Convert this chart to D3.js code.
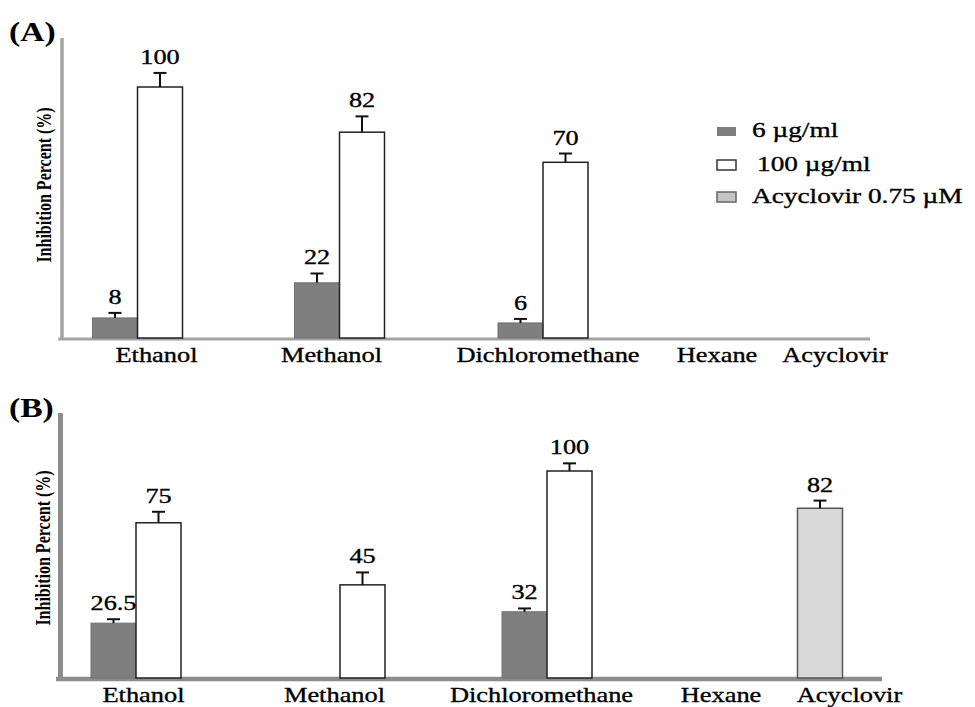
<!DOCTYPE html>
<html>
<head>
<meta charset="utf-8">
<script src="https://cdn.jsdelivr.net/npm/d3@7"></script>
<style>
  html, body { margin: 0; padding: 0; background: #fff; }
  svg { display: block; }
  text { font-family: "Liberation Serif", "Times New Roman", serif; fill: #000; }
  text.reg { stroke: #000; stroke-width: 0.35px; }
</style>
</head>
<body>
<svg id="chart" width="975" height="707"></svg>
<script>
// ---------- DATA ----------
const categories = ["Ethanol", "Methanol", "Dichloromethane", "Hexane", "Acyclovir"];
const seriesNames = ["6 µg/ml", "100 µg/ml", "Acyclovir 0.75 µM"];

// Panel A
const low6A      = [8, 22, 6, null, null];
const low6ErrA   = [2, 3.7, 1.6, null, null];
const high100A   = [100, 82, 70, null, null];
const high100ErrA= [5.6, 6.3, 3.5, null, null];
const acyA       = [null, null, null, null, null];
const acyErrA    = [null, null, null, null, null];

// Panel B
const low6B      = [26.5, 0, 32, null, null];
const low6ErrB   = [1.9, null, 1.6, null, null];
const high100B   = [75, 45, 100, null, null];
const high100ErrB= [5.3, 6, 3.7, null, null];
const acyB       = [null, null, null, null, 82];
const acyErrB    = [null, null, null, null, 3.7];

// ---------- LAYOUT ----------
const svg = d3.select("#chart");
const barW = 45;
const fills   = ["#7f7f7f", "#ffffff", "#d9d9d9"];
const strokes = ["#707070", "#222222", "#555555"];
const strokeW = [1, 1.5, 1.5];

const panels = [
  {
    title: "(A)", titleY: 41,
    low: low6A, lowErr: low6ErrA, high: high100A, highErr: high100ErrA, acy: acyA, acyErr: acyErrA,
    y: d3.scaleLinear().domain([0, 100]).range([338, 87]),
    axisTop: 38, axisRight: 870, axisX: 62, yAxisW: 3.5, xAxisW: 3, axisColor: "#a3a3a3",
    groupX: d3.scaleOrdinal().domain(categories).range([137.5, 339.5, 543, 745, 820]),
    labelX: d3.scaleOrdinal().domain(categories).range([156.5, 331.5, 548, 717, 835]),
    labelY: 362, yTitleX: 44, yTitleY: 185
  },
  {
    title: "(B)", titleY: 417,
    low: low6B, lowErr: low6ErrB, high: high100B, highErr: high100ErrB, acy: acyB, acyErr: acyErrB,
    y: d3.scaleLinear().domain([0, 100]).range([678, 471]),
    axisTop: 413, axisRight: 882, axisX: 60.5, yAxisW: 5, xAxisW: 4.5, axisColor: "#8c8c8c",
    groupX: d3.scaleOrdinal().domain(categories).range([136, 340, 547, 745, 820]),
    labelX: d3.scaleOrdinal().domain(categories).range([143.5, 334.5, 541.5, 721, 849.5]),
    labelY: 702, yTitleX: 43, yTitleY: 548
  }
];

function stretched(g, str, x, y, sx, size, weight) {
  return g.append("text")
    .attr("class", weight ? null : "reg")
    .attr("transform", `translate(${x},${y}) scale(${sx},1)`)
    .attr("text-anchor", "middle")
    .style("font-size", size + "px")
    .style("font-weight", weight || "normal")
    .text(str);
}

panels.forEach(p => {
  const g = svg.append("g");
  const base = p.y(0);

  // axes
  g.append("line").attr("x1", p.axisX).attr("x2", p.axisX)
    .attr("y1", p.axisTop).attr("y2", base + p.xAxisW / 2)
    .attr("stroke", p.axisColor).attr("stroke-width", p.yAxisW);
  g.append("line").attr("x1", p.axisX - p.yAxisW / 2 - 2).attr("x2", p.axisRight)
    .attr("y1", base + 1).attr("y2", base + 1)
    .attr("stroke", p.axisColor).attr("stroke-width", p.xAxisW);

  // build bar records
  const bars = [];
  categories.forEach((c, i) => {
    const vals = [p.low[i], p.high[i], p.acy[i]];
    const errs = [p.lowErr[i], p.highErr[i], p.acyErr[i]];
    const present = [0, 1, 2].filter(s => vals[s] !== null);
    if (!present.length) return;
    const cx = p.groupX(c);
    const inner = d3.scaleBand().domain(present)
      .range([cx - present.length * barW / 2, cx + present.length * barW / 2]);
    present.forEach(s => {
      if (vals[s] > 0) bars.push({ cat: c, s, v: vals[s], e: errs[s], x: inner(s), w: inner.bandwidth() });
    });
  });

  // bars
  g.selectAll("rect.bar").data(bars).join("rect")
    .attr("class", "bar")
    .attr("x", d => d.x).attr("width", d => d.w)
    .attr("y", d => p.y(d.v)).attr("height", d => base - p.y(d.v))
    .attr("fill", d => fills[d.s]).attr("stroke", d => strokes[d.s])
    .attr("stroke-width", d => strokeW[d.s]);

  // error bars
  const eb = bars.filter(d => d.e !== null);
  g.selectAll("line.err").data(eb).join("line")
    .attr("class", "err")
    .attr("x1", d => d.x + d.w / 2).attr("x2", d => d.x + d.w / 2)
    .attr("y1", d => p.y(d.v)).attr("y2", d => p.y(d.v + d.e))
    .attr("stroke", "#111").attr("stroke-width", 2);
  g.selectAll("line.cap").data(eb).join("line")
    .attr("class", "cap")
    .attr("x1", d => d.x + d.w / 2 - 6.5).attr("x2", d => d.x + d.w / 2 + 6.5)
    .attr("y1", d => p.y(d.v + d.e)).attr("y2", d => p.y(d.v + d.e))
    .attr("stroke", "#111").attr("stroke-width", 2);

  // value labels
  bars.forEach(d => {
    stretched(g, String(d.v), d.x + d.w / 2, p.y(d.v + (d.e || 0)) - 9, 1.25, 21);
  });

  // category labels
  categories.forEach(c => stretched(g, c, p.labelX(c), p.labelY, 1.2, 22));

  // y title
  g.append("text")
    .attr("transform", `translate(${p.yTitleX},${p.yTitleY}) scale(1.25,1) rotate(-90)`)
    .attr("text-anchor", "middle")
    .attr("dy", "0.35em")
    .style("font-size", "16px").style("font-weight", "bold")
    .text("Inhibition Percent (%)");

  // panel title
  g.append("text")
    .attr("transform", `translate(9,${p.titleY}) scale(1.2,1)`)
    .style("font-size", "28px").style("font-weight", "bold")
    .text(p.title);
});

// ---------- LEGEND ----------
const legend = svg.append("g");
const legendRows = [
  { s: 0, y: 127, h: 9, textX: 752, textY: 137 },
  { s: 1, y: 160, h: 10, textX: 757, textY: 170.5 },
  { s: 2, y: 192, h: 10, textX: 752, textY: 202.5 }
];
legendRows.forEach(r => {
  legend.append("rect").attr("x", 717).attr("y", r.y).attr("width", 19).attr("height", r.h)
    .attr("fill", r.s === 2 ? "#c4c4c4" : fills[r.s])
    .attr("stroke", r.s === 0 ? "none" : (r.s === 1 ? "#333" : "#666"))
    .attr("stroke-width", 1.5);
  legend.append("text")
    .attr("class", "reg")
    .attr("transform", `translate(${r.textX},${r.textY}) scale(1.3,1)`)
    .style("font-size", "21px")
    .text(seriesNames[r.s]);
});
</script>
</body>
</html>
